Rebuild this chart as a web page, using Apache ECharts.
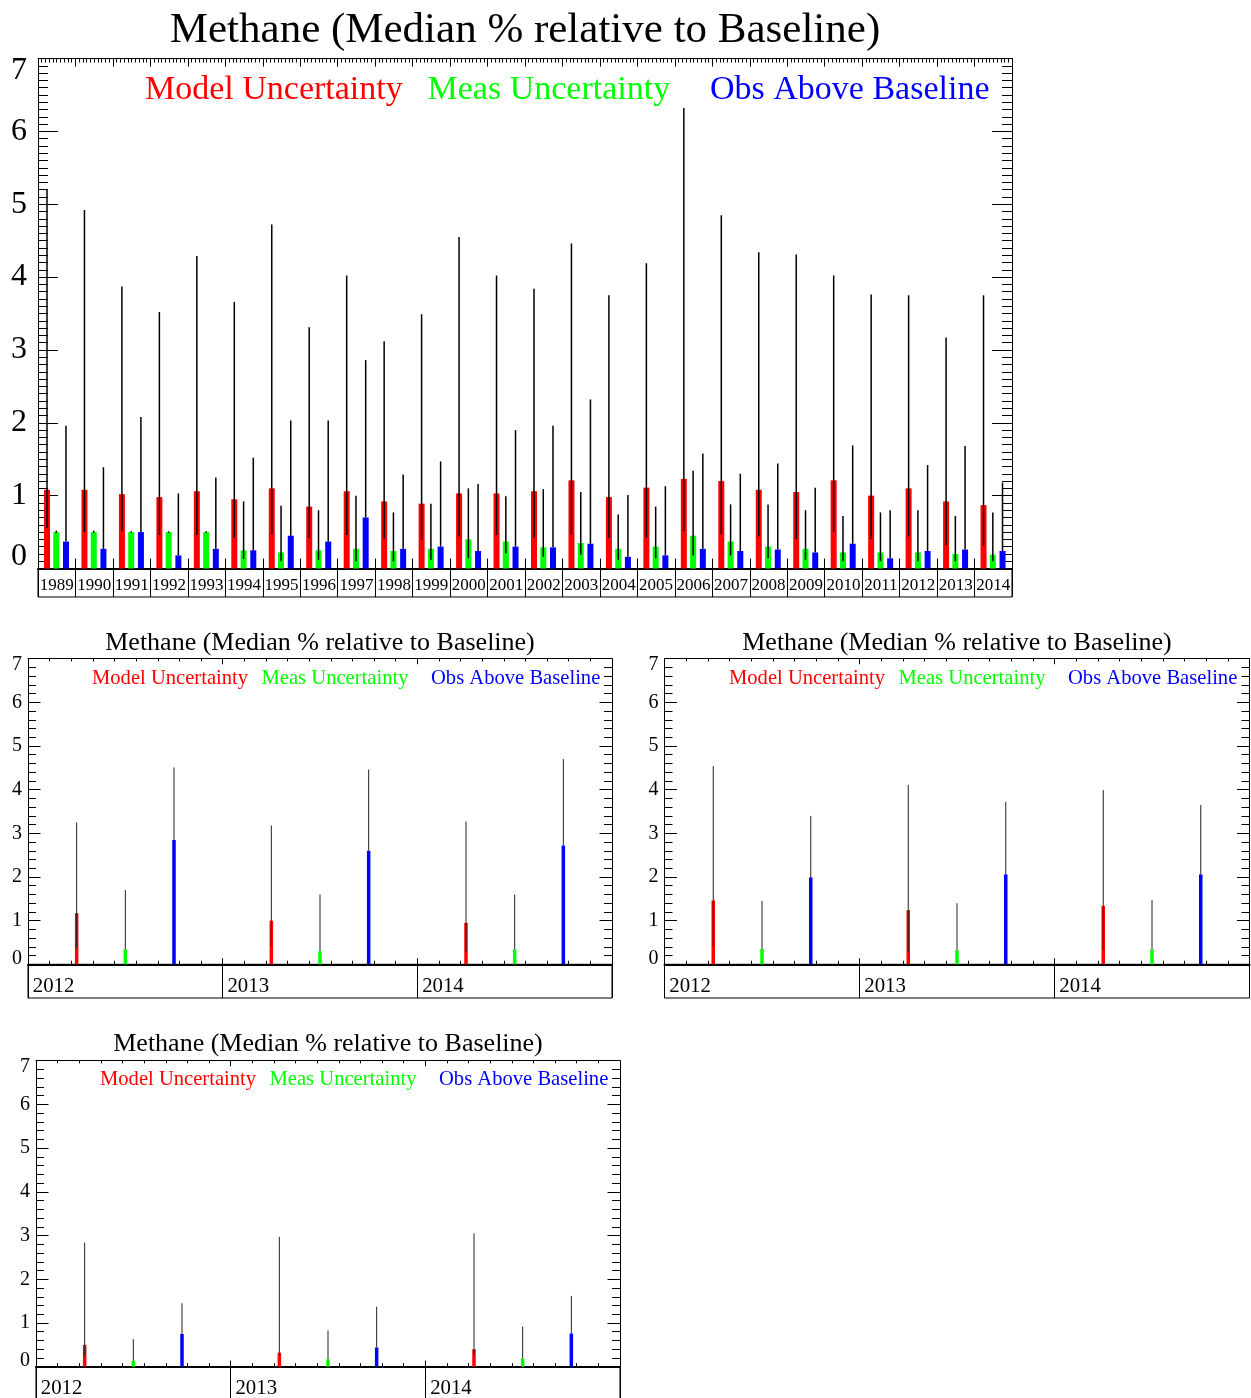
<!DOCTYPE html>
<html>
<head>
<meta charset="utf-8">
<title>Methane (Median % relative to Baseline)</title>
<script src="https://cdn.jsdelivr.net/npm/echarts@6/dist/echarts.min.js"></script>
<style>
  html, body { margin: 0; padding: 0; background: #fff; overflow: hidden; }
  #chart { width: 1251px; height: 1398px; }
</style>
</head>
<body>
<div id="chart"></div>
<script>
// ---- full record, 1989-2014 ----
const years = ['1989', '1990', '1991', '1992', '1993', '1994', '1995', '1996', '1997', '1998', '1999', '2000', '2001',
               '2002', '2003', '2004', '2005', '2006', '2007', '2008', '2009', '2010', '2011', '2012', '2013', '2014'];
const modelMedian = [1.08, 1.08, 1.02, 0.98, 1.06, 0.95, 1.10, 0.85, 1.06, 0.92, 0.89, 1.03, 1.03,
                     1.06, 1.21, 0.98, 1.11, 1.23, 1.20, 1.08, 1.05, 1.21, 1.00, 1.10, 0.92, 0.87];
const modelLow = [0.56, 0.50, 0.51, 0.46, 0.46, 0.42, 0.47, 0.42, 0.46, 0.41, 0.39, 0.44, 0.46,
                  0.42, 0.47, 0.42, 0.42, 0.51, 0.47, 0.44, 0.40, 0.50, 0.40, 0.44, 0.32, 0.31];
const modelHigh = [5.20, 4.92, 3.87, 3.52, 4.29, 3.66, 4.72, 3.31, 4.02, 3.12, 3.49, 4.55, 4.02,
                   3.84, 4.46, 3.75, 4.19, 6.32, 4.85, 4.34, 4.31, 4.02, 3.76, 3.75, 3.17, 3.75];
const measMedian = [0.50, 0.50, 0.50, 0.50, 0.50, 0.25, 0.22, 0.25, 0.27, 0.24, 0.27, 0.40, 0.37,
                    0.29, 0.35, 0.27, 0.30, 0.45, 0.37, 0.30, 0.27, 0.22, 0.22, 0.22, 0.20, 0.19];
const measLow = [0.49, 0.49, 0.49, 0.49, 0.49, 0.13, 0.10, 0.12, 0.10, 0.10, 0.12, 0.14, 0.21,
                 0.16, 0.19, 0.12, 0.14, 0.18, 0.18, 0.14, 0.12, 0.10, 0.10, 0.10, 0.10, 0.10];
const measHigh = [0.52, 0.52, 0.51, 0.51, 0.51, 0.92, 0.86, 0.80, 1.00, 0.77, 0.89, 1.10, 0.99,
                  1.09, 1.05, 0.74, 0.85, 1.34, 0.88, 0.88, 0.80, 0.72, 0.77, 0.80, 0.72, 0.77];
const obsMedian = [0.37, 0.27, 0.50, 0.18, 0.27, 0.25, 0.45, 0.37, 0.70, 0.27, 0.30, 0.24, 0.30,
                   0.29, 0.34, 0.16, 0.18, 0.27, 0.24, 0.26, 0.22, 0.34, 0.14, 0.24, 0.26, 0.24];
const obsHigh = [1.96, 1.39, 2.08, 1.03, 1.25, 1.52, 2.03, 2.03, 2.86, 1.29, 1.47, 1.16, 1.90,
                 1.96, 2.32, 1.01, 1.13, 1.58, 1.30, 1.44, 1.11, 1.69, 0.80, 1.42, 1.68, 1.18];

// ---- 2012-2014 panels ----
const recentYears = ['2012', '2013', '2014'];

const bModel = [1.17, 1.00, 0.95], bModelLow = [0.37, 0.40, 0.29], bModelHigh = [3.25, 3.18, 3.27];
const bMeas = [0.34, 0.30, 0.34], bMeasHigh = [1.70, 1.60, 1.60];
const bObs = [2.85, 2.60, 2.72], bObsHigh = [4.51, 4.46, 4.70];

const cModel = [1.46, 1.24, 1.34], cModelLow = [0.40, 0.30, 0.33], cModelHigh = [4.54, 4.11, 3.99];
const cMeas = [0.35, 0.32, 0.34], cMeasHigh = [1.45, 1.40, 1.47];
const cObs = [1.99, 2.06, 2.06], cObsHigh = [3.40, 3.72, 3.65];

const dModel = [0.50, 0.32, 0.40], dModelLow = [0.23, 0.25, 0.28], dModelHigh = [2.84, 2.97, 3.05];
const dMeas = [0.14, 0.17, 0.19], dMeasHigh = [0.63, 0.83, 0.92];
const dObs = [0.75, 0.44, 0.76], dObsHigh = [1.45, 1.37, 1.62];

const yTicks = [0, 1, 2, 3, 4, 5, 6, 7];

const TITLE = 'Methane (Median % relative to Baseline)';
const NAMES = ['Model Uncertainty', 'Meas Uncertainty', 'Obs Above Baseline'];
const COLORS = ['#ff0000', '#00ff00', '#0000ff'];
const SERIF = "'Liberation Serif', 'Times New Roman', serif";
const BLACK = '#000';

const option = {
    animation: false,
    backgroundColor: '#fff',
    title: [], legend: [], grid: [], xAxis: [], yAxis: [], series: []
};

// bar from 0 to median plus a thin whisker from low to high, placed at a fraction of the band
function errorBarItem(offset, barW, color, lineW, lineColor) {
    return function (params, api) {
        const i = api.value(0);
        const band = api.size([1, 0])[0];
        const zero = api.coord([i, 0]);
        const top = api.coord([i, api.value(1)]);
        const lo = api.coord([i, api.value(2)]);
        const hi = api.coord([i, api.value(3)]);
        const cx = zero[0] + offset * band;
        return {
            type: 'group',
            children: [
                { type: 'rect', shape: { x: cx - barW / 2, y: top[1], width: barW, height: zero[1] - top[1] }, style: { fill: color } },
                { type: 'line', shape: { x1: cx, y1: lo[1], x2: cx, y2: hi[1] }, style: { stroke: lineColor, lineWidth: lineW } }
            ]
        };
    };
}

function yAxisFor(grid, pos, p) {
    return {
        type: 'value', gridIndex: grid, position: pos,
        min: yTicks[0], max: yTicks[yTicks.length - 1], interval: 1,
        axisLine: { show: true, onZero: false, lineStyle: { color: BLACK, width: 1 } },
        axisTick: { show: true, inside: true, length: p.yTick, lineStyle: { color: BLACK, width: 1 } },
        minorTick: { show: true, splitNumber: p.yMinorSplit, length: p.yMinor, lineStyle: { color: BLACK, width: 1 } },
        splitLine: { show: false },
        axisLabel: pos === 'left' ? {
            show: true, color: BLACK, fontFamily: SERIF, fontSize: p.yLabelSize, lineHeight: p.yLabelLine,
            margin: p.yLabelMargin, showMinLabel: true, showMaxLabel: true,
            verticalAlignMinLabel: 'bottom', verticalAlignMaxLabel: 'top'
        } : { show: false }
    };
}

function addPanel(p) {
    const n = p.cats.length;
    const thin = { color: BLACK, width: 1 };

    const gPlot = option.grid.length;
    option.grid.push({ left: p.left, top: p.top, width: p.width, height: p.height, show: false, outerBoundsMode: 'none' });
    option.grid.push({
        left: p.left, top: p.top + p.height, width: p.width, height: p.strip,
        show: true, borderColor: BLACK, borderWidth: 1, backgroundColor: 'transparent', outerBoundsMode: 'none'
    });
    const gStrip = gPlot + 1;

    const xCat = option.xAxis.length;
    option.xAxis.push({
        type: 'category', gridIndex: gPlot, position: 'bottom', data: p.cats,
        axisLine: { show: true, onZero: false, lineStyle: { color: BLACK, width: 2 } },
        axisTick: { show: true, inside: true, interval: 0, length: p.catTick, lineStyle: thin },
        axisLabel: p.catLabel,
        splitLine: { show: false }
    });
    // frame top with fine ticks
    option.xAxis.push({
        type: 'value', gridIndex: gPlot, position: 'top', min: 0, max: n, interval: 1,
        axisLine: { show: true, onZero: false, lineStyle: thin },
        axisTick: { show: true, inside: true, length: p.topTick, lineStyle: thin },
        minorTick: { show: true, splitNumber: p.topMinorSplit, length: p.topMinor, lineStyle: thin },
        axisLabel: { show: false }, splitLine: { show: false }
    });
    if (p.bottomMinor) {
        option.xAxis.push({
            type: 'value', gridIndex: gPlot, position: 'bottom', min: 0, max: n, interval: 1,
            axisLine: { show: false, onZero: false },
            axisTick: { show: false, inside: true },
            minorTick: { show: true, splitNumber: p.topMinorSplit, length: p.bottomMinor, lineStyle: thin },
            axisLabel: { show: false }, splitLine: { show: false }
        });
    }
    // boxed year strip under the plot
    option.xAxis.push({
        type: 'category', gridIndex: gStrip, data: p.cats,
        axisLine: { show: false, onZero: false }, axisTick: { show: false }, axisLabel: { show: false },
        splitLine: { show: true, interval: 0, lineStyle: thin }
    });

    const yLeft = option.yAxis.length;
    option.yAxis.push(yAxisFor(gPlot, 'left', p));
    option.yAxis.push(yAxisFor(gPlot, 'right', p));
    option.yAxis.push({ type: 'value', gridIndex: gStrip, show: false });

    option.title.push({
        text: TITLE, left: p.left + p.width / 2, top: p.titleY, textAlign: 'center', textVerticalAlign: 'middle', padding: 0,
        textStyle: { fontFamily: SERIF, fontSize: p.titleSize, fontWeight: 'normal', color: BLACK }
    });

    option.legend.push({
        left: p.legendX - 5, top: p.legendY - p.legendLine / 2, orient: 'horizontal', padding: 0,
        itemGap: 0, itemWidth: 0, itemHeight: 0, icon: 'none', selectedMode: false,
        textStyle: { fontFamily: SERIF, fontSize: p.legendSize, width: p.legendCol - 5, lineHeight: p.legendLine },
        data: NAMES.map((name, k) => ({ name: name, textStyle: { color: COLORS[k] } }))
    });

    p.sets.forEach((s, k) => {
        option.series.push({
            type: 'custom', name: NAMES[k], xAxisIndex: xCat, yAxisIndex: yLeft, z: 5,
            encode: { x: 0, y: [1, 2, 3] },
            data: p.cats.map((c, i) => [i, s[0][i], s[1][i], s[2][i]]),
            renderItem: errorBarItem(p.offsets[k], p.barWidth, COLORS[k], p.lineWidth, p.lineColor)
        });
    });
}

// top panel
addPanel({
    cats: years, left: 38, top: 58.5, width: 974, height: 510, strip: 28.5,
    titleY: 31, titleSize: 43,
    legendX: 145, legendY: 90, legendSize: 34, legendCol: 282.5, legendLine: 40,
    yLabelSize: 32, yLabelLine: 24, yLabelMargin: 11, yTick: 20, yMinor: 10, yMinorSplit: 10,
    catTick: 10, topTick: 8, topMinor: 4, topMinorSplit: 10,
    catLabel: { show: true, interval: 0, color: BLACK, fontFamily: SERIF, fontSize: 17, margin: 8.5 },
    offsets: [-0.26, -0.012, 0.247], barWidth: 6, lineWidth: 1.5, lineColor: BLACK,
    sets: [[modelMedian, modelLow, modelHigh], [measMedian, measLow, measHigh], [obsMedian, obsMedian, obsHigh]]
});

function smallLabel(band) {
    return {
        show: true, interval: 0, color: BLACK, fontFamily: SERIF, fontSize: 20.8, margin: 11.5, align: 'center',
        formatter: '{y|{value}}',
        rich: { y: { width: band - 9.6, align: 'left', fontFamily: SERIF, fontSize: 20.8, color: BLACK } }
    };
}

const smallCommon = {
    cats: recentYears, height: 305.6, titleSize: 26,
    legendSize: 20.6, legendCol: 169.5, legendLine: 24,
    yLabelSize: 20, yLabelLine: 12, yLabelMargin: 6, yTick: 12.5, yMinor: 8, yMinorSplit: 5,
    catTick: 6, topTick: 5.5, topMinor: 2.7, topMinorSplit: 9, bottomMinor: 3.5,
    offsets: [-0.25, 0, 0.25], barWidth: 3.5, lineWidth: 1, lineColor: '#222'
};

addPanel(Object.assign({}, smallCommon, {
    left: 28, top: 658.7, width: 584, strip: 33.7, titleY: 643, legendX: 92, legendY: 679,
    catLabel: smallLabel(584 / 3),
    sets: [[bModel, bModelLow, bModelHigh], [bMeas, bMeas, bMeasHigh], [bObs, bObs, bObsHigh]]
}));

addPanel(Object.assign({}, smallCommon, {
    left: 664.5, top: 658.7, width: 585, strip: 33.7, titleY: 643, legendX: 729, legendY: 679,
    catLabel: smallLabel(585 / 3),
    sets: [[cModel, cModelLow, cModelHigh], [cMeas, cMeas, cMeasHigh], [cObs, cObs, cObsHigh]]
}));

addPanel(Object.assign({}, smallCommon, {
    left: 36, top: 1060.7, width: 584, height: 306, strip: 40, titleY: 1044, legendX: 100, legendY: 1080,
    catLabel: smallLabel(584 / 3),
    sets: [[dModel, dModelLow, dModelHigh], [dMeas, dMeas, dMeasHigh], [dObs, dObs, dObsHigh]]
}));

const chart = echarts.init(document.getElementById('chart'));
chart.setOption(option);
window.addEventListener('resize', chart.resize);
</script>
</body>
</html>
